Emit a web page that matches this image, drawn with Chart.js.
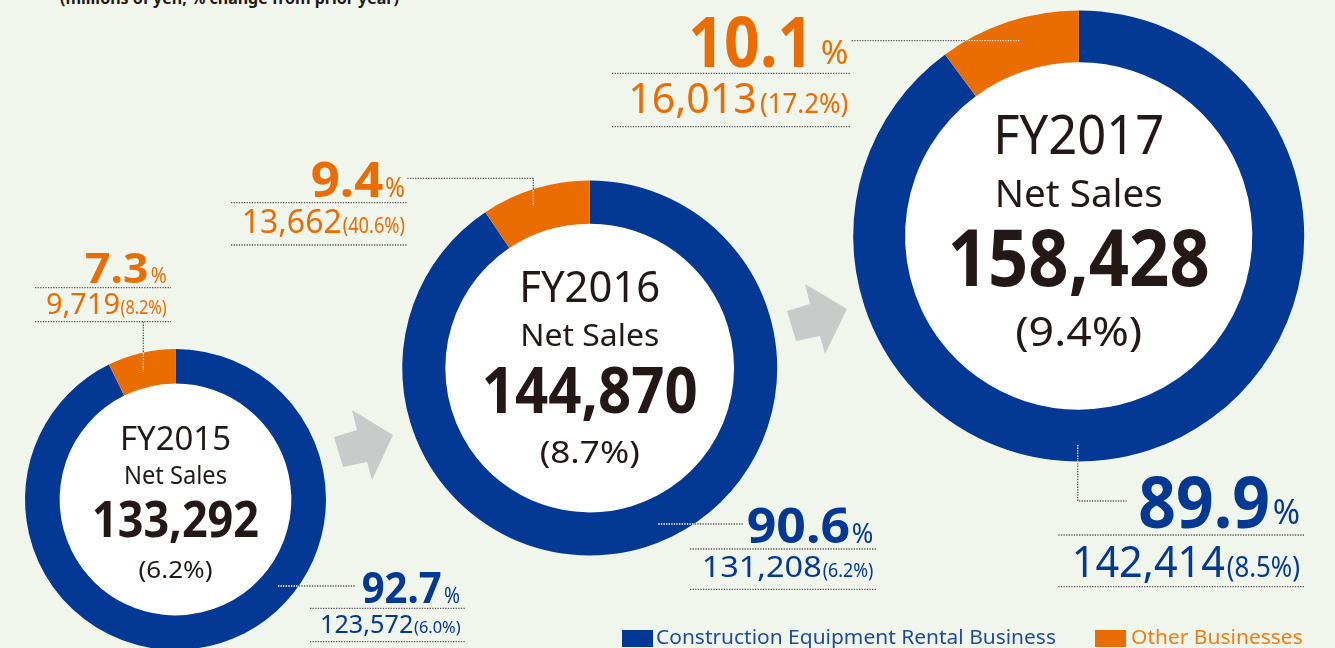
<!DOCTYPE html>
<html>
<head>
<meta charset="utf-8">
<script src="https://cdn.jsdelivr.net/npm/chart.js@4.4.1/dist/chart.umd.min.js"></script>
<style>
html, body { margin: 0; padding: 0; background: #f1f6ec; overflow: hidden; }
#page { position: relative; width: 1335px; height: 648px; overflow: hidden; background: #f1f6ec; }
.layer { position: absolute; left: 0; top: 0; }
#note { position: absolute; left: 60px; top: -10px; font: bold 16px 'Noto Sans', sans-serif; line-height: 16px; color: #231815; white-space: nowrap; }
#legend { position: absolute; left: 0; top: 0; width: 1335px; height: 648px; font-family: 'Noto Sans', sans-serif; }
.sw { position: absolute; top: 630px; width: 31px; height: 17px; }
.lt { position: absolute; top: 624px; font-size: 20px; line-height: 26px; white-space: nowrap; transform-origin: 0 0; }
</style>
</head>
<body>
<div id="page">
  <div id="note">(millions of yen, % change from prior year)</div>
  <svg class="layer" width="1335" height="648">
    <polygon points="334,437 357,430 352,410 393,435 372,480 367,462 343,467" fill="#c9caca"/>
    <polygon points="787,311 810,304 805,284 847,309 825,354 820,336 796,341" fill="#c9caca"/>
  </svg>
  <canvas id="c0" class="layer" width="1335" height="700"></canvas>
  <canvas id="c1" class="layer" width="1335" height="700"></canvas>
  <canvas id="c2" class="layer" width="1335" height="700"></canvas>
  <div id="legend"></div>
</div>
<script>
// values (millions of yen, % change)
const years = ['FY2015', 'FY2016', 'FY2017'];
const netSales = [133292, 144870, 158428];
const netSalesChange = [6.2, 8.7, 9.4];
const rentalShare = [92.7, 90.6, 89.9];
const otherShare = [7.3, 9.4, 10.1];
const rentalSales = [123572, 131208, 142414];
const rentalChange = [6.0, 6.2, 8.5];
const otherSales = [9719, 13662, 16013];
const otherChange = [8.2, 40.6, 17.2];
const segmentNames = ['Construction Equipment Rental Business', 'Other Businesses'];

const BLUE = '#033894';
const ORANGE = '#eb6c00';
const DARK = '#231815';
const DOTS = '#5a5757';
const W = 1335, H = 700;

// ring placement: centre x, centre y, outer radius
const rings = [
    { cx: 175.5, cy: 499.5, r: 150.5 },
    { cx: 589.7, cy: 368, r: 187.5 },
    { cx: 1078.7, cy: 236, r: 225.5 }
];

// centre text: [dy from centre, font px, width px]
const centerLayout = [
    { fy: [-49.5, 33, 111], net: [-15.5, 25, 103], total: [37.5, 50, 167], chg: [78.5, 24, 74] },
    { fy: [-65.7, 43, 141], net: [-22.3, 30, 139], total: [44.7, 64, 216], chg: [95, 31, 100] },
    { fy: [-81.7, 55, 171], net: [-29.3, 39, 168], total: [50, 78, 262], chg: [110, 40, 127] }
];

// side labels: [x0, x1, baseline, font px]; line: [x0, x1, y1, y2]
const otherLayout = [
    { num: [85, 148.3, 282.7, 42], pct: [150.7, 166.7, 282.5, 22], line: [35, 171, 287.7, 321.7],
      val: [46, 120, 314, 29], chg: [120.5, 166.7, 314, 19], leader: [[143.3, 322], [143.3, 372]] },
    { num: [310.7, 383.3, 196.7, 48], pct: [385, 405, 196.5, 27], line: [231, 407, 202.7, 245],
      val: [241.7, 341.7, 233.3, 33], chg: [342.7, 405, 233.3, 21], leader: [[407.3, 178.3], [533.3, 178.3], [533.3, 206]] },
    { num: [688.3, 813.3, 66.7, 70], pct: [820.7, 848.3, 64, 33], line: [612, 850, 73.3, 126.7],
      val: [628.3, 756.7, 113.3, 42], chg: [760, 848.3, 113.3, 27], leader: [[851.7, 40.7], [1020, 40.7]] }
];
const rentalLayout = [
    { num: [361.7, 441.7, 603.3, 43], pct: [444, 460, 603, 22], line: [310, 465, 608.3, 641.7],
      val: [320, 413.3, 633.3, 26], chg: [414, 460.7, 633.3, 17], leader: [[278, 586], [355, 586]] },
    { num: [746.7, 850, 543.3, 48], pct: [851.7, 873.3, 543, 27], line: [690, 877.3, 549, 589.3],
      val: [701.7, 821.7, 576.7, 29], chg: [822.7, 873.3, 576.7, 19], leader: [[658.3, 524], [743.3, 524]] },
    { num: [1138.3, 1270, 528.3, 72], pct: [1272.7, 1300, 524, 34], line: [1058.3, 1305, 535, 586.7],
      val: [1071.7, 1225, 576.7, 44], chg: [1226.7, 1300, 576.7, 29], leader: [[1077.7, 445], [1077.7, 501], [1126.7, 501]] }
];

const fmt = n => n.toLocaleString('en-US');

// draw text squeezed/stretched to a given width
function fitText(ctx, text, left, base, width) {
    const nat = ctx.measureText(text).width;
    ctx.save();
    ctx.translate(left, base);
    ctx.scale(width / nat, 1);
    ctx.textAlign = 'left';
    ctx.textBaseline = 'alphabetic';
    ctx.fillText(text, 0, 0);
    ctx.restore();
}

function dotted(ctx, pts, color) {
    ctx.save();
    ctx.strokeStyle = color;
    ctx.lineWidth = 1.3;
    ctx.setLineDash([1.3, 1.3]);
    ctx.beginPath();
    pts.forEach((p, k) => k ? ctx.lineTo(p[0], p[1]) : ctx.moveTo(p[0], p[1]));
    ctx.stroke();
    ctx.restore();
}

function drawLabel(ctx, lay, color, big, value, change, arc) {
    // leader: dark outside the ring, white on the ring
    dotted(ctx, lay.leader, DOTS);
    ctx.save();
    ctx.beginPath();
    ctx.arc(arc.x, arc.y, arc.outerRadius, 0, Math.PI * 2);
    ctx.arc(arc.x, arc.y, arc.innerRadius, 0, Math.PI * 2, true);
    ctx.clip();
    dotted(ctx, lay.leader, '#ffffff');
    ctx.restore();

    const [lx0, lx1, y1, y2] = lay.line;
    dotted(ctx, [[lx0, y1], [lx1, y1]], DOTS);
    dotted(ctx, [[lx0, y2], [lx1, y2]], DOTS);

    ctx.fillStyle = color;
    ctx.font = `bold ${lay.num[3]}px 'Noto Sans'`;
    fitText(ctx, big.toFixed(1), lay.num[0], lay.num[2], lay.num[1] - lay.num[0]);
    ctx.font = `${lay.pct[3]}px 'Noto Sans'`;
    fitText(ctx, '%', lay.pct[0], lay.pct[2], lay.pct[1] - lay.pct[0]);
    ctx.font = `${lay.val[3]}px 'Noto Sans'`;
    fitText(ctx, fmt(value), lay.val[0], lay.val[2], lay.val[1] - lay.val[0]);
    ctx.font = `${lay.chg[3]}px 'Noto Sans'`;
    fitText(ctx, `(${change.toFixed(1)}%)`, lay.chg[0], lay.chg[2], lay.chg[1] - lay.chg[0]);
}

function ringPlugin(i) {
    return {
        id: 'ring' + i,
        beforeDatasetsDraw(chart) {
            const arc = chart.getDatasetMeta(0).data[0];
            const ctx = chart.ctx;
            ctx.save();
            ctx.fillStyle = '#ffffff';
            ctx.beginPath();
            ctx.arc(arc.x, arc.y, arc.innerRadius + 0.5, 0, Math.PI * 2);
            ctx.fill();
            ctx.restore();
        },
        afterDatasetsDraw(chart) {
            const arc = chart.getDatasetMeta(0).data[0];
            const ctx = chart.ctx;
            const c = centerLayout[i];
            ctx.fillStyle = DARK;
            const put = (txt, spec, weight) => {
                ctx.font = `${weight} ${spec[1]}px 'Noto Sans'`;
                fitText(ctx, txt, arc.x - spec[2] / 2, arc.y + spec[0], spec[2]);
            };
            put(years[i], c.fy, 'normal');
            put('Net Sales', c.net, 'normal');
            put(fmt(netSales[i]), c.total, 'bold');
            put(`(${netSalesChange[i].toFixed(1)}%)`, c.chg, 'normal');

            drawLabel(ctx, otherLayout[i], ORANGE, otherShare[i], otherSales[i], otherChange[i], arc);
            drawLabel(ctx, rentalLayout[i], BLUE, rentalShare[i], rentalSales[i], rentalChange[i], arc);
        }
    };
}

rings.forEach((g, i) => {
    new Chart(document.getElementById('c' + i), {
        type: 'doughnut',
        data: {
            labels: segmentNames,
            datasets: [{
                data: [rentalShare[i], otherShare[i]],
                backgroundColor: [BLUE, ORANGE],
                borderWidth: 0,
                hoverOffset: 0,
                offset: 0
            }]
        },
        options: {
            responsive: false,
            animation: false,
            events: [],
            cutout: '77%',
            layout: { padding: { left: g.cx - g.r, right: W - g.cx - g.r, top: g.cy - g.r, bottom: H - g.cy - g.r } },
            plugins: { legend: { display: false }, tooltip: { enabled: false } }
        },
        plugins: [ringPlugin(i)]
    });
});

// legend
const legend = document.getElementById('legend');
const legendPos = [{ sw: 622, tx: 656, w: 400, text: '#1f4b9e' }, { sw: 1095, tx: 1131, w: 172, text: '#ef7d15' }];
segmentNames.forEach((name, k) => {
    const p = legendPos[k];
    const sw = document.createElement('div');
    sw.className = 'sw';
    sw.style.left = p.sw + 'px';
    sw.style.background = k === 0 ? BLUE : ORANGE;
    legend.appendChild(sw);
    const t = document.createElement('div');
    t.className = 'lt';
    t.style.left = p.tx + 'px';
    t.style.color = p.text;
    t.textContent = name;
    legend.appendChild(t);
    t.style.transform = `scaleX(${p.w / t.offsetWidth})`;
});
</script>
</body>
</html>
